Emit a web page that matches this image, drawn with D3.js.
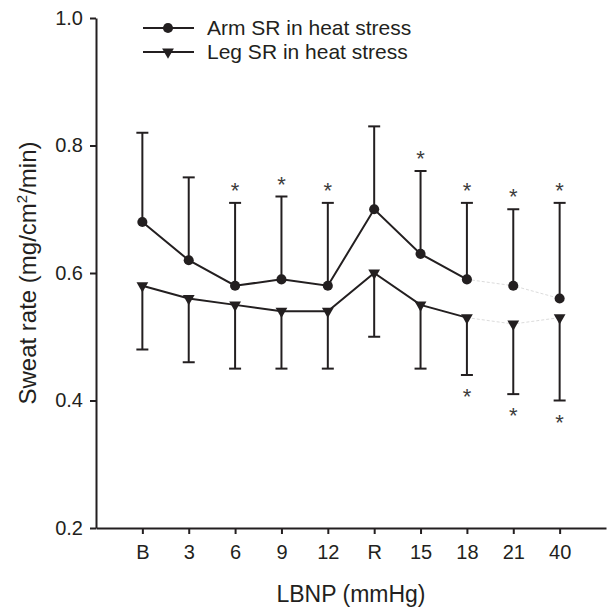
<!DOCTYPE html>
<html>
<head>
<meta charset="utf-8">
<script src="https://cdn.jsdelivr.net/npm/d3@7"></script>
<style>
  body { margin: 0; background: #fff; }
  svg { display: block; font-family: "Liberation Sans", Arial, sans-serif; }
</style>
</head>
<body>
<script>
let categories = ['B', '3', '6', '9', '12', 'R', '15', '18', '21', '40']
let armMean  = [0.68, 0.62, 0.58, 0.59, 0.58, 0.70, 0.63, 0.59, 0.58, 0.56]
let armUpper = [0.82, 0.75, 0.71, 0.72, 0.71, 0.83, 0.76, 0.71, 0.70, 0.71]
let legMean  = [0.58, 0.56, 0.55, 0.54, 0.54, 0.60, 0.55, 0.53, 0.52, 0.53]
let legLower = [0.48, 0.46, 0.45, 0.45, 0.45, 0.50, 0.45, 0.44, 0.41, 0.40]
let armSig = [0, 0, 1, 1, 1, 0, 1, 1, 1, 1]
let legSig = [0, 0, 0, 0, 0, 0, 0, 1, 1, 1]
let yTicks = [0.2, 0.4, 0.6, 0.8, 1.0]
let lastSolid = 7  // points after '18' are joined by a faint dotted line

let width = 608
let height = 611
let margin = ({top: 18, right: 2, bottom: 83, left: 96})
let ink = '#231f20'

let x = d3.scalePoint()
    .domain(categories)
    .range([margin.left, width - margin.right])
    .padding(1)

let y = d3.scaleLinear()
    .domain([0.2, 1.0])
    .range([height - margin.bottom, margin.top])

const svg = d3.select('body').append('svg')
    .attr('width', width)
    .attr('height', height)
    .attr('viewBox', [0, 0, width, height])

let styleAxis = g => g
    .call(g => g.selectAll('.domain').attr('stroke', ink).attr('stroke-width', 2))
    .call(g => g.selectAll('.tick line').attr('stroke', ink).attr('stroke-width', 2))
    .call(g => g.selectAll('.tick text').attr('fill', ink).style('font-size', '20px'))

svg.append('g')
    .attr('transform', `translate(0,${y(0.2)})`)
    .call(d3.axisBottom(x).tickSize(6).tickSizeOuter(0).tickPadding(11))
    .call(styleAxis)

svg.append('g')
    .attr('transform', `translate(${margin.left},0)`)
    .call(d3.axisLeft(y).tickValues(yTicks).tickFormat(d3.format('.1f')).tickSize(6).tickSizeOuter(0).tickPadding(7))
    .call(styleAxis)

let series = [
  { name: 'Arm SR in heat stress', mean: armMean, bar: armUpper, sig: armSig, up: true,
    symbol: d3.symbol(d3.symbolCircle, 80), rot: 0 },
  { name: 'Leg SR in heat stress', mean: legMean, bar: legLower, sig: legSig, up: false,
    symbol: d3.symbol(d3.symbolTriangle, 60), rot: 180 }
]

let line = d3.line()
    .x(i => x(categories[i]))

for (let s of series) {
  let idx = d3.range(categories.length)
  line.y(i => y(s.mean[i]))

  // error bars, one side only
  let eb = svg.append('g')
      .attr('stroke', ink)
      .attr('stroke-width', 2)
  eb.selectAll('line.stem')
    .data(idx)
    .join('line')
      .attr('class', 'stem')
      .attr('x1', i => x(categories[i]))
      .attr('x2', i => x(categories[i]))
      .attr('y1', i => y(s.mean[i]))
      .attr('y2', i => y(s.bar[i]))
  eb.selectAll('line.cap')
    .data(idx)
    .join('line')
      .attr('class', 'cap')
      .attr('x1', i => x(categories[i]) - 6)
      .attr('x2', i => x(categories[i]) + 6)
      .attr('y1', i => y(s.bar[i]))
      .attr('y2', i => y(s.bar[i]))

  svg.append('path')
      .attr('d', line(idx.slice(0, lastSolid + 1)))
      .attr('fill', 'none')
      .attr('stroke', ink)
      .attr('stroke-width', 2)

  svg.append('path')
      .attr('d', line(idx.slice(lastSolid)))
      .attr('fill', 'none')
      .attr('stroke', '#dcdcdc')
      .attr('stroke-width', 1)
      .attr('stroke-dasharray', '3,2')

  svg.append('g')
    .selectAll('path')
    .data(idx)
    .join('path')
      .attr('d', s.symbol)
      .attr('fill', ink)
      .attr('transform', i => `translate(${x(categories[i])},${y(s.mean[i])}) rotate(${s.rot})`)

  svg.append('g')
    .selectAll('text')
    .data(idx.filter(i => s.sig[i]))
    .join('text')
      .text('*')
      .attr('text-anchor', 'middle')
      .attr('fill', '#3c3c3c')
      .style('font-size', '22px')
      .attr('x', i => x(categories[i]))
      .attr('y', i => s.up ? y(s.bar[i]) - 5 : y(s.bar[i]) + 29)
}

// legend
let legend = svg.append('g')
  .selectAll('g')
  .data(series)
  .join('g')
    .attr('transform', (d, i) => `translate(143,${28 + i * 24})`)

legend.append('line')
    .attr('x2', 51)
    .attr('stroke', ink)
    .attr('stroke-width', 2)

legend.append('path')
    .attr('d', d => d.symbol())
    .attr('fill', ink)
    .attr('transform', d => `translate(25,0) rotate(${d.rot})`)

legend.append('text')
    .text(d => d.name)
    .attr('x', 64)
    .attr('dy', '0.35em')
    .attr('fill', ink)
    .style('font-size', '21px')

// axis titles
svg.append('text')
    .text('LBNP (mmHg)')
    .attr('text-anchor', 'middle')
    .attr('fill', ink)
    .style('font-size', '23px')
    .attr('x', (margin.left + width - margin.right) / 2)
    .attr('y', 602)

let ylab = svg.append('text')
    .attr('text-anchor', 'middle')
    .attr('fill', ink)
    .style('font-size', '24px')
    .attr('transform', 'rotate(-90)')
    .attr('x', -(y(0.2) + y(1.0)) / 2)
    .attr('y', 36)
ylab.append('tspan').text('Sweat rate (mg/cm')
ylab.append('tspan').text('2').attr('dy', -9).style('font-size', '15px')
ylab.append('tspan').text('/min)').attr('dy', 9)
</script>
</body>
</html>
